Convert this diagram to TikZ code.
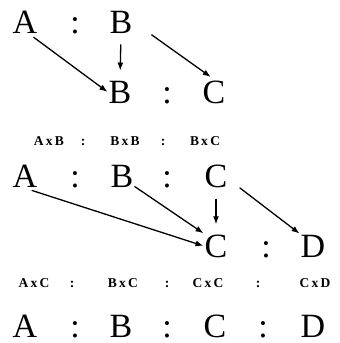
\documentclass[tikz,border=0pt]{standalone}
\usepackage{fontspec}
\setmainfont{Liberation Serif}
\usepackage{tikz}
\usetikzlibrary{arrows.meta}

\tikzset{every node/.style={inner sep=1pt, anchor=base, font=\fontsize{34}{36}\selectfont}}
\tikzset{pair/.style={inner sep=1pt, font=\bfseries\fontsize{13.5}{15}\selectfont}}
\tikzset{link/.style={line width=1.3pt, -{Latex[length=8pt,width=6pt]}}}

\begin{document}
\begin{tikzpicture}[x=1pt, y=-1pt]
			\useasboundingbox (0,0) rectangle (340,343);
			
			\node (A1) at (25,33) {A};
			\node (s1) at (75,33) {:};
			\node (B1) at (121,33) {B};
			
			\node (B2) at (120,103) {B};
			\node (s2) at (167,103) {:};
			\node (C2) at (214,103) {C};
			
			\node[pair] (AB) at (49,145) {A\,x\,B};
			\node[pair] (p1) at (83,145) {:};
			\node[pair] (BB) at (125,145) {B\,x\,B};
			\node[pair] (p2) at (163,145) {:};
			\node[pair] (BC) at (205,145) {B\,x\,C};
			
			\node (A3) at (25,187) {A};
			\node (s3) at (75,187) {:};
			\node (B3) at (122,187) {B};
			\node (s4) at (167,187) {:};
			\node (C3) at (216,187) {C};
			
			\node (C4) at (216,257) {C};
			\node (s5) at (266,257) {:};
			\node (D4) at (313,257) {D};
			
			\node[pair] (AC) at (34,287) {A\,x\,C};
			\node[pair] (q1) at (72,287) {:};
			\node[pair] (BC2) at (123,287) {B\,x\,C};
			\node[pair] (q2) at (167,287) {:};
			\node[pair] (CC) at (208,287) {C\,x\,C};
			\node[pair] (q3) at (258,287) {:};
			\node[pair] (CD) at (315,287) {C\,x\,D};
			
			\node (A5) at (25,337) {A};
			\node (s6) at (75,337) {:};
			\node (B5) at (121,337) {B};
			\node (s7) at (167,337) {:};
			\node (C5) at (215,337) {C};
			\node (s8) at (263,337) {:};
			\node (D5) at (313,337) {D};
			
			\draw[link, shorten <=5pt] (A1.-70) -- (B2.west);
			\draw[link, shorten <=10pt, shorten >=9pt] (B1.south) -- (B2.north);
			\draw[link, shorten <=22pt, shorten >=4pt] (B1.east) -- (C2.north);
			
			\draw[link, shorten <=7pt] (A3.south) -- (C4.west);
			\draw[link] (B3.-40) -- (C4.north west);
			\draw[link, shorten <=10pt, shorten >=9pt] (C3.south) -- (C4.north);
			\draw[link, shorten <=14pt] (C3.-15) -- (D4.north west);
		\end{tikzpicture}
\end{document}
